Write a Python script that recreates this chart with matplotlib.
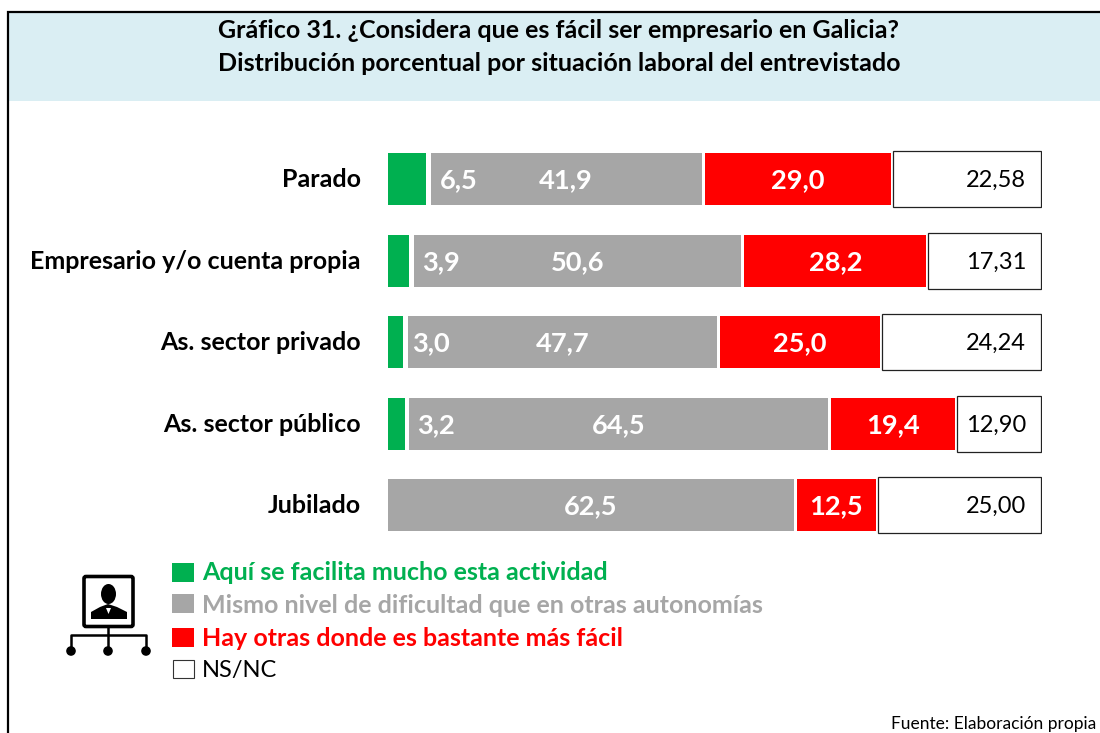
import matplotlib
matplotlib.use("Agg")
import matplotlib.pyplot as plt
from matplotlib.patches import Rectangle, FancyBboxPatch, Ellipse, Circle, Polygon
import numpy as np

plt.rcParams['font.family'] = ['Lato', 'DejaVu Sans']

title_lines = ["Gráfico 31. ¿Considera que es fácil ser empresario en Galicia?",
               "Distribución porcentual por situación laboral del entrevistado"]
categories = ["Parado", "Empresario y/o cuenta propia", "As. sector privado",
              "As. sector público", "Jubilado"]
series_names = ["Aquí se facilita mucho esta actividad",
                "Mismo nivel de dificultad que en otras autonomías",
                "Hay otras donde es bastante más fácil",
                "NS/NC"]
facil = [6.5, 3.9, 3.0, 3.2, 0.0]
mismo = [41.9, 50.6, 47.7, 64.5, 62.5]
otras = [29.0, 28.2, 25.0, 19.4, 12.5]
nsnc = [22.58, 17.31, 24.24, 12.90, 25.00]
source = "Fuente: Elaboración propia"

GREEN, GRAY, RED = "#00B050", "#A6A6A6", "#FF0000"
W, H = 1100, 733
fig = plt.figure(figsize=(W / 100, H / 100), dpi=100)

# overlay in pixel coordinates for frame, banner, legend and icon
bg = fig.add_axes([0, 0, 1, 1], zorder=0)
bg.set_xlim(0, W)
bg.set_ylim(H, 0)
bg.axis("off")
bg.add_patch(Rectangle((8, 12), W, 88.5, fc="#DAEEF3", ec="none"))
bg.plot([8, 8, W], [H, 12, 12], color="black", lw=1.6, solid_joinstyle="miter")
bg.text(559, 31, title_lines[0], ha="center", va="center", fontsize=18, fontweight="bold", color="black")
bg.text(559, 63.5, title_lines[1], ha="center", va="center", fontsize=18, fontweight="bold", color="black")

# bars
top, bottom, left, right = 138.5, 546, 388, 1042
ax = fig.add_axes([left / W, 1 - bottom / H, (right - left) / W, (bottom - top) / H], zorder=1)
ax.patch.set_alpha(0)
ax.set_xlim(0, 100)
ax.set_ylim(4.5, -0.5)
ax.axis("off")
y = np.arange(len(categories))
px = 100 / (right - left)
gap = 3.0 * px
h = 0.64
f, m, o, n = map(np.array, (facil, mismo, otras, nsnc))
ax.barh(y, np.where(f > 0, f - 1.4 * gap, 0), height=h, left=0, color=GREEN)
ax.barh(y, m - gap, height=h, left=f, color=GRAY)
ax.barh(y, o - gap, height=h, left=f + m, color=RED)
ax.barh(y, n, height=h + 0.05, left=f + m + o - 0.15, facecolor="white", edgecolor="#222222", lw=0.9)

fmt = lambda v, d=1: f"{v:.{d}f}".replace(".", ",")
lab_offset = [10, 10, 5, 9, 0]
for i, cat in enumerate(categories):
    bg.text(361, top + (i + 0.5) * (bottom - top) / 5 + 0.5, cat, ha="right", va="center",
            fontsize=18, fontweight="bold", color="black")
    if f[i] > 0:
        ax.annotate(fmt(f[i]), (f[i], i), xytext=(lab_offset[i] * 0.72 - 0.7, -1), textcoords="offset points",
                    ha="left", va="center", fontsize=19.6, fontweight="bold", color="white")
    ax.annotate(fmt(m[i]), (f[i] + m[i] / 2 - 0.2, i), xytext=(0, -1), textcoords="offset points",
                ha="center", va="center", fontsize=19.6, fontweight="bold", color="white")
    ax.annotate(fmt(o[i]), (f[i] + m[i] + o[i] / 2 - 0.2, i), xytext=(0, -1), textcoords="offset points",
                ha="center", va="center", fontsize=19.6, fontweight="bold", color="white")
    ax.annotate(fmt(n[i], 2), (100, i), xytext=(-11.5, -1), textcoords="offset points",
                ha="right", va="center", fontsize=17, color="black")

# legend
ly = [563, 594, 628, 659]
lt = [572.5, 605.5, 638, 670.5]
lc = [GREEN, GRAY, RED, "white"]
for name, c, yy, ty in zip(series_names, lc, ly, lt):
    if c == "white":
        bg.add_patch(Rectangle((172.5, yy + 0.5), 21, 18, fc="white", ec="#333333", lw=0.8))
        bg.text(202, ty, name, ha="left", va="center", fontsize=17, color="black")
    else:
        bg.add_patch(Rectangle((172, yy), 22, 19, fc=c, ec="none"))
        bg.text(202, ty, name, ha="left", va="center", fontsize=18, fontweight="bold", color=c)

# icon
bg.add_patch(FancyBboxPatch((84, 576.5), 49, 50, boxstyle="round,pad=0,rounding_size=2", fc="white", ec="black", lw=2.6))
bg.add_patch(Ellipse((108.5, 594), 15, 20, fc="black", ec="none"))
bg.add_patch(Polygon([(91, 619), (91, 612), (100, 607), (108, 604), (117, 607), (127, 612), (127, 619)], fc="black", ec="none"))
bg.add_patch(Polygon([(106, 608), (111, 608), (108.5, 614)], fc="white", ec="none"))
bg.plot([108, 108], [627, 651], color="black", lw=1.8)
bg.plot([71, 71, 146, 146], [651, 635, 635, 651], color="black", lw=1.8)
for cx in (71, 108, 146):
    bg.add_patch(Circle((cx, 651), 4.8, fc="black", ec="none"))

bg.text(1096, 724.5, source, ha="right", va="center", fontsize=12.5, color="black")

fig.savefig("out.png", dpi=100)
